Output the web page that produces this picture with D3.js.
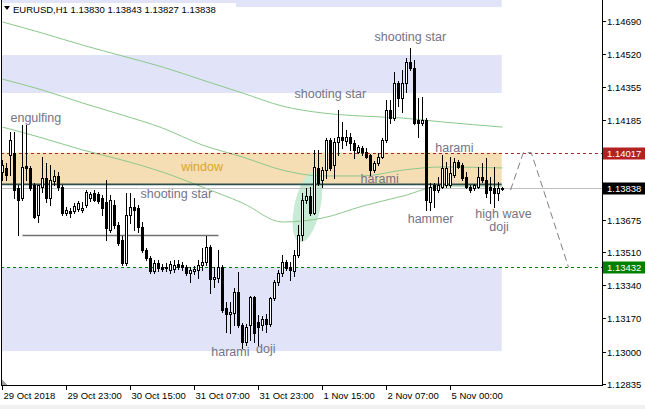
<!DOCTYPE html>
<html><head><meta charset="utf-8">
<script src="https://cdn.jsdelivr.net/npm/d3@7/dist/d3.min.js"></script>
<style>body{margin:0;background:#fff;} svg{display:block;font-family:"Liberation Sans",Arial,sans-serif;}</style>
</head><body><svg id="c" width="645" height="409"></svg>
<script>
// ---------- DATA ----------
const open  = [1.13918,1.13939,1.14005,1.14015,1.13836,1.13785,1.13949,1.13939,1.13852,1.13698,
1.13841,1.13888,1.13785,1.13872,1.13898,1.13841,1.13709,1.13719,1.13719,1.13729,
1.13724,1.13749,1.13785,1.13811,1.13806,1.13785,1.13765,1.13622,1.13749,1.13647,
1.13571,1.13453,1.13698,1.13739,1.13734,1.13637,1.13519,1.13479,1.13412,1.13453,
1.13433,1.13428,1.13418,1.13423,1.13448,1.13443,1.13433,1.13402,1.13412,1.13418,
1.13443,1.13458,1.13534,1.13371,1.13376,1.13433,1.13223,1.13193,1.13198,1.13305,
1.13136,1.13049,1.13136,1.13279,1.13151,1.13136,1.13167,1.13141,1.13274,1.13356,
1.13402,1.13458,1.13433,1.13412,1.13494,1.13596,1.13775,1.13795,1.13709,1.13939,
1.13878,1.13928,1.14082,1.13954,1.14071,1.14097,1.14076,1.14097,1.14066,1.14020,
1.14041,1.14020,1.14005,1.13928,1.13964,1.13995,1.14082,1.14235,1.14194,1.14373,
1.14296,1.14373,1.14480,1.14450,1.14184,1.14169,1.14184,1.13765,1.13852,1.13826,
1.13841,1.13852,1.13852,1.13903,1.13969,1.13954,1.13893,1.13841,1.13836,1.13841,
1.13893,1.13878,1.13841,1.13836,1.13811,1.13830];
const high  = [1.13979,1.13964,1.14123,1.14123,1.13852,1.14158,1.14158,1.13949,1.13862,1.13852,
1.13995,1.13964,1.13954,1.13928,1.13918,1.13852,1.13739,1.13734,1.13760,1.13770,
1.13765,1.13826,1.13816,1.13826,1.13816,1.13801,1.13878,1.13801,1.13775,1.13663,
1.13591,1.13811,1.13811,1.13785,1.13749,1.13663,1.13529,1.13489,1.13468,1.13468,
1.13448,1.13453,1.13463,1.13468,1.13468,1.13458,1.13443,1.13433,1.13438,1.13468,
1.13529,1.13591,1.13545,1.13433,1.13519,1.13443,1.13254,1.13254,1.13325,1.13407,
1.13146,1.13141,1.13285,1.13285,1.13187,1.13182,1.13193,1.13279,1.13366,1.13418,
1.13494,1.13468,1.13458,1.13519,1.13647,1.13811,1.13836,1.13841,1.14031,1.14031,
1.13944,1.14092,1.14092,1.14092,1.14235,1.14174,1.14133,1.14117,1.14082,1.14056,
1.14051,1.14041,1.14010,1.13974,1.14015,1.14092,1.14286,1.14286,1.14429,1.14383,
1.14439,1.14501,1.14552,1.14490,1.14296,1.14301,1.14194,1.13862,1.13862,1.13893,
1.14005,1.13969,1.13995,1.13990,1.13979,1.13964,1.13918,1.13852,1.13857,1.13944,
1.13964,1.13990,1.13893,1.13944,1.13867,1.13843];
const low   = [1.13878,1.13878,1.13903,1.13785,1.13596,1.13775,1.13878,1.13826,1.13683,1.13663,
1.13816,1.13765,1.13749,1.13852,1.13826,1.13698,1.13698,1.13688,1.13709,1.13719,
1.13714,1.13739,1.13770,1.13770,1.13760,1.13698,1.13571,1.13612,1.13632,1.13545,
1.13443,1.13443,1.13658,1.13622,1.13612,1.13509,1.13468,1.13402,1.13402,1.13412,
1.13412,1.13412,1.13402,1.13407,1.13423,1.13418,1.13392,1.13356,1.13397,1.13376,
1.13418,1.13443,1.13300,1.13330,1.13356,1.13203,1.13101,1.13095,1.13136,1.13126,
1.13019,1.13034,1.13060,1.13049,1.13034,1.13111,1.13101,1.13131,1.13264,1.13341,
1.13387,1.13418,1.13366,1.13387,1.13484,1.13571,1.13760,1.13698,1.13704,1.13852,
1.13841,1.13888,1.13928,1.13888,1.14005,1.14041,1.14056,1.14031,1.13990,1.14015,
1.14005,1.13990,1.13903,1.13918,1.13954,1.13990,1.14071,1.14169,1.14184,1.14255,
1.14225,1.14327,1.14439,1.14163,1.14097,1.14158,1.13724,1.13724,1.13739,1.13816,
1.13836,1.13841,1.13841,1.13893,1.13939,1.13878,1.13836,1.13816,1.13826,1.13836,
1.13867,1.13790,1.13760,1.13739,1.13775,1.13827];
const close = [1.13954,1.13903,1.14082,1.13826,1.13775,1.13944,1.13939,1.13836,1.13688,1.13852,
1.13888,1.13785,1.13878,1.13898,1.13841,1.13709,1.13724,1.13709,1.13744,1.13760,
1.13734,1.13816,1.13806,1.13775,1.13770,1.13734,1.13632,1.13775,1.13647,1.13555,
1.13453,1.13698,1.13739,1.13724,1.13637,1.13519,1.13479,1.13412,1.13453,1.13428,
1.13423,1.13433,1.13448,1.13443,1.13433,1.13433,1.13402,1.13418,1.13423,1.13443,
1.13458,1.13534,1.13371,1.13381,1.13433,1.13213,1.13193,1.13203,1.13305,1.13136,
1.13049,1.13126,1.13279,1.13095,1.13126,1.13167,1.13141,1.13274,1.13356,1.13402,
1.13458,1.13428,1.13418,1.13494,1.13596,1.13775,1.13795,1.13709,1.13944,1.13862,
1.13928,1.14082,1.13939,1.14071,1.14097,1.14082,1.14097,1.14066,1.14031,1.14046,
1.14020,1.13995,1.13928,1.13964,1.13995,1.14082,1.14235,1.14194,1.14373,1.14296,
1.14373,1.14480,1.14450,1.14169,1.14169,1.14184,1.13775,1.13841,1.13826,1.13852,
1.13939,1.13939,1.13913,1.13969,1.13944,1.13888,1.13841,1.13826,1.13852,1.13893,
1.13878,1.13811,1.13826,1.13811,1.13836,1.13838];

// moving averages, read at selected bars
const maBars  = [0, 10, 20, 30, 40, 50, 60, 70, 80, 90, 100, 110, 125];
const maSlow  = [1.14685,1.14628,1.14567,1.14511,1.14455,1.14388,1.14322,1.14255,1.14220,1.14204,1.14194,1.14174,1.14148];
const maMid   = [1.14393,1.14337,1.14271,1.14209,1.14143,1.14056,1.13995,1.13928,1.13898,1.13898,1.13928,1.13944,1.13939];
const maFast  = [1.14148,1.14092,1.14031,1.13979,1.13918,1.13841,1.13760,1.13663,1.13683,1.13744,1.13795,1.13847,1.13847];

const priceTicks = [1.14690,1.14520,1.14355,1.14185,1.13675,1.13510,1.13340,1.13170,1.13000,1.12835];
const timeLabels = ["29 Oct 2018","29 Oct 23:00","30 Oct 15:00","31 Oct 07:00","31 Oct 23:00","1 Nov 15:00","2 Nov 07:00","5 Nov 00:00"];
const timeLabelBars = [0,16,32,48,64,80,96,112];

const levelResist = 1.14017, levelSupport = 1.13432, bidPrice = 1.13838;
const zonesBlue = [[1.14516,1.14322],[1.13432,1.13003],[1.14900,1.14761]];
const zoneWindow = [1.14017,1.13852];
const zoneLine = 1.13855;
const grayLine = {from:5, to:54, price:1.13596};
const projection = [[127,1.13826],[130.2,1.14017],[132.2,1.14017],[141.5,1.13432]];
const labels = [
 {t:"engulfing", bar:2, p:1.14174, c:"#747484"},
 {t:"shooting star", bar:34.5, p:1.13785, c:"#747484"},
 {t:"window", bar:44.7, p:1.13923, c:"#dba52c"},
 {t:"shooting star", bar:73, p:1.14296, c:"#747484"},
 {t:"shooting star", bar:93, p:1.14588, c:"#747484"},
 {t:"harami", bar:89.5, p:1.13862, c:"#747484"},
 {t:"harami", bar:108.2, p:1.14020, c:"#747484"},
 {t:"hammer", bar:101.3, p:1.13657, c:"#747484"},
 {t:"high wave", bar:118.2, p:1.13683, c:"#747484"},
 {t:"doji", bar:121.7, p:1.13617, c:"#747484"},
 {t:"harami", bar:52.2, p:1.12978, c:"#747484"},
 {t:"doji", bar:63.4, p:1.12993, c:"#747484"}
];

// ---------- CHART ----------
const svg = d3.select("#c");
const L = 1, R = 602, T = 2, B = 385;
const x = d3.scaleLinear().domain([0,150]).range([2.5,602.5]);
const y = d3.scaleLinear().domain([1.12835,1.14690]).range([384,21]);

svg.append("defs").append("clipPath").attr("id","pc")
  .append("rect").attr("x",L).attr("y",0).attr("width",R-L).attr("height",B);
const g = svg.append("g").attr("clip-path","url(#pc)");

const zoneL = x(-1), zoneR = x(124.8);
zonesBlue.forEach(z=>{
  g.append("rect").attr("x",zoneL).attr("width",zoneR-zoneL)
   .attr("y",y(z[0])).attr("height",y(z[1])-y(z[0])).attr("fill","#e1e3f8");
});
g.append("rect").attr("x",zoneL).attr("width",zoneR-zoneL)
  .attr("y",y(zoneWindow[0])).attr("height",y(zoneWindow[1])-y(zoneWindow[0])).attr("fill","#f5deb3");

// highlight ellipse
g.append("ellipse").attr("cx",x(76.2)).attr("cy",y(1.13740)).attr("rx",13).attr("ry",36)
  .attr("transform",`rotate(12 ${x(76.2)} ${y(1.13740)})`).attr("fill","#c8ebd5");

// MAs
const maLine = vals => d3.line().x((d,i)=>x(maBars[i])).y(d=>y(d)).curve(d3.curveMonotoneX)(vals);
[maSlow,maMid,maFast].forEach(v=>{
  g.append("path").attr("d",maLine(v)).attr("fill","none").attr("stroke","#8cc88c").attr("stroke-width",1);
});

// horizontal lines
g.append("line").attr("x1",zoneL).attr("x2",zoneR).attr("y1",y(zoneLine)).attr("y2",y(zoneLine))
  .attr("stroke","#2f4f4f").attr("stroke-width",1.6);
g.append("line").attr("x1",L).attr("x2",R).attr("y1",Math.round(y(bidPrice))+0.5).attr("y2",Math.round(y(bidPrice))+0.5)
  .attr("stroke","#c0c0c0").attr("stroke-width",1);
g.append("line").attr("x1",L).attr("x2",R).attr("y1",Math.round(y(levelResist))+0.5).attr("y2",Math.round(y(levelResist))+0.5)
  .attr("stroke","#a52a2a").attr("stroke-dasharray","3,3").attr("stroke-width",1);
g.append("line").attr("x1",L).attr("x2",R).attr("y1",Math.round(y(levelSupport))+0.5).attr("y2",Math.round(y(levelSupport))+0.5)
  .attr("stroke","#008000").attr("stroke-dasharray","3,3").attr("stroke-width",1);
g.append("line").attr("x1",x(grayLine.from)).attr("x2",x(grayLine.to))
  .attr("y1",Math.round(y(grayLine.price))+0.5).attr("y2",Math.round(y(grayLine.price))+0.5)
  .attr("stroke","#707070").attr("stroke-width",1.3);

// projection
g.append("path").attr("d",d3.line().x(d=>x(d[0])).y(d=>y(d[1]))(projection))
  .attr("fill","none").attr("stroke","#808080").attr("stroke-dasharray","7,4").attr("stroke-width",1);

// candles
const cg = g.append("g").attr("shape-rendering","crispEdges");
close.forEach((c,i)=>{
  const cx = x(i);
  const o = open[i];
  cg.append("line").attr("x1",cx).attr("x2",cx).attr("y1",Math.round(y(high[i]))).attr("y2",Math.round(y(low[i]))+1)
    .attr("stroke","#000").attr("stroke-width",1);
  const top = Math.round(y(Math.max(o,c))), bot = Math.round(y(Math.min(o,c)));
  if (c >= o) {
    cg.append("rect").attr("x",cx-1).attr("y",top+0.5).attr("width",2).attr("height",Math.max(bot-top,0))
      .attr("fill","#fff").attr("stroke","#000").attr("stroke-width",1);
  } else {
    cg.append("rect").attr("x",cx-1.5).attr("y",top).attr("width",3).attr("height",Math.max(bot-top,1)+1)
      .attr("fill","#000");
  }
});

// text labels
labels.forEach(l=>{
  g.append("text").attr("x",x(l.bar)).attr("y",y(l.p)).text(l.t)
   .attr("font-size",12.5).attr("fill",l.c);
});

// frame
const fr = svg.append("g").attr("shape-rendering","crispEdges");
fr.append("line").attr("x1",L+0.5).attr("x2",L+0.5).attr("y1",0).attr("y2",B+0.5).attr("stroke","#000");
fr.append("line").attr("x1",R+0.5).attr("x2",R+0.5).attr("y1",0).attr("y2",B+0.5).attr("stroke","#000");
fr.append("line").attr("x1",L).attr("x2",R+1).attr("y1",B+0.5).attr("y2",B+0.5).attr("stroke","#000");
fr.append("path").attr("d",`M${L+1},${B-5} L${L+1},${B} L${L+6},${B} Z`).attr("fill","#a0a0a0");

// title (drawn on its own white panel)
svg.append("rect").attr("x",L+1).attr("y",3).attr("width",234).attr("height",14).attr("fill","#fff");
svg.append("path").attr("d","M4,6 L10,6 L7,10 Z").attr("fill","#000");
svg.append("text").attr("x",13).attr("y",13).attr("font-size",9.5).attr("fill","#000")
  .text("EURUSD,H1  1.13830 1.13843 1.13827 1.13838");

// right axis
const ax = svg.append("g").attr("font-size",9.5);
priceTicks.forEach(p=>{
  const yy = Math.round(y(p))+0.5;
  ax.append("line").attr("x1",R).attr("x2",R+4).attr("y1",yy).attr("y2",yy).attr("stroke","#000");
  ax.append("text").attr("x",R+5).attr("y",yy).attr("dy","0.35em").text(p.toFixed(5)).attr("fill","#000");
});
[[levelResist,"#b22222"],[bidPrice,"#000"],[levelSupport,"#008000"]].forEach(([p,col])=>{
  const yy = Math.round(y(p))+0.5;
  ax.append("rect").attr("x",R+1).attr("y",yy-6).attr("width",645-R-1).attr("height",12).attr("fill",col);
  ax.append("text").attr("x",R+5).attr("y",yy).attr("dy","0.35em").text(p.toFixed(5)).attr("fill","#fff");
});

// bottom axis
const bx = svg.append("g").attr("font-size",9.5);
timeLabelBars.forEach((b,k)=>{
  const xx = Math.round(x(b))-0.5;
  bx.append("line").attr("x1",xx).attr("x2",xx).attr("y1",B).attr("y2",B+5).attr("stroke","#000");
  bx.append("text").attr("x",xx+1).attr("y",399).text(timeLabels[k]).attr("fill","#000");
});
svg.append("rect").attr("x",0).attr("y",405).attr("width",645).attr("height",4).attr("fill","#f0f0f0");
</script></body></html>
